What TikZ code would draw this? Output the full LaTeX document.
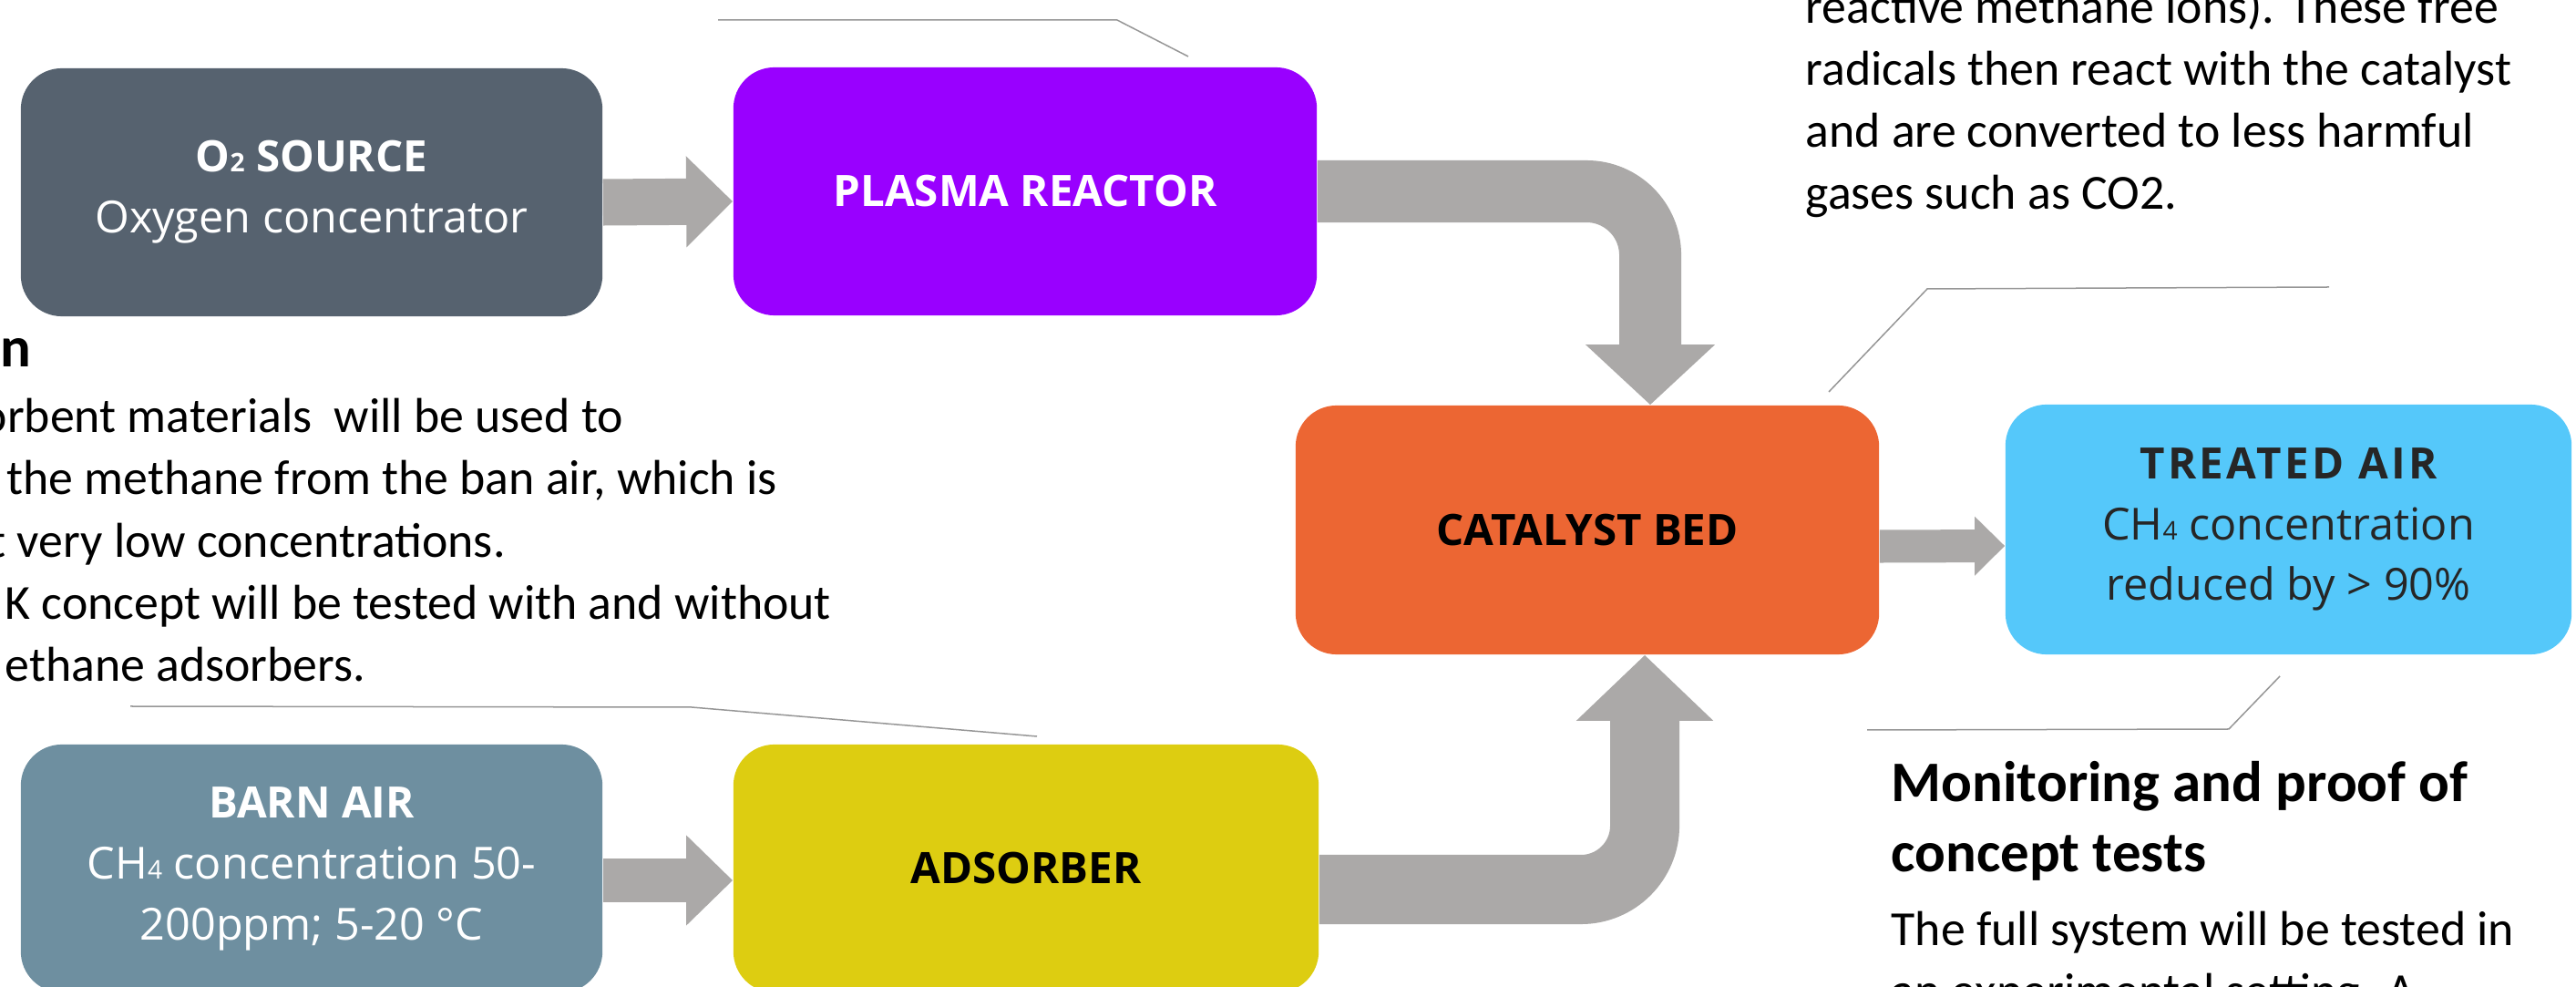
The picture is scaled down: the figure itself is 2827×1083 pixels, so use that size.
\documentclass[tikz,border=0pt]{standalone}
\usepackage{fontspec}
\setmainfont{Carlito}
\newfontfamily\boxfont{Open Sans}
\usepackage{xcolor}
\usetikzlibrary{arrows.meta, calc, positioning}
\definecolor{srcslate}{RGB}{86,98,111}
\definecolor{plasmaviolet}{RGB}{153,0,255}
\definecolor{bedorange}{RGB}{236,102,51}
\definecolor{airblue}{RGB}{85,200,250}
\definecolor{barnsteel}{RGB}{110,143,160}
\definecolor{adsyellow}{RGB}{221,205,17}
\definecolor{pipegray}{RGB}{171,169,168}
\definecolor{calloutgray}{RGB}{150,150,150}
\newcommand{\lowidx}[1]{{\fontsize{8}{8}\selectfont #1}}
\newcommand{\stagetitle}[1]{{\bfseries\fontsize{13.5}{19}\selectfont #1}}
\tikzset{
    stage/.style={rectangle, rounded corners=4.5mm, inner sep=0pt, align=center,
        minimum width=6.4cm, minimum height=2.72cm,
        font=\boxfont\fontsize{13.8}{19}\selectfont},
    pipe/.style={draw=pipegray, line width=#1},
    bodytext/.style={inner sep=0pt, align=left, font=\fontsize{15.3}{19.4}\selectfont},
    headtext/.style={inner sep=0pt, align=left, font=\bfseries\fontsize{17.9}{22.1}\selectfont},
    callout/.style={draw=calloutgray, line width=0.15mm}
}

\begin{document}
\begin{tikzpicture}[x=0.01cm, y=-0.01cm]
        \useasboundingbox (0,0) rectangle (2827,1083);

        % process stages
        \node[stage, fill=srcslate, text=white, minimum width=6.38cm] (o2) at (342,211) {\stagetitle{O\lowidx{2} SOURCE}\\Oxygen concentrator};
        \node[stage, fill=plasmaviolet, text=white] (plasma) at (1125,210) {\stagetitle{PLASMA REACTOR}};
        \node[stage, fill=bedorange, text=black, minimum height=2.73cm] (catalyst) at (1742,581.5) {\stagetitle{CATALYST BED}};
        \node[stage, fill=airblue, text=black!85, minimum width=6.21cm, minimum height=2.74cm] (treated) at (2511.5,581) {\stagetitle{\addfontfeatures{LetterSpace=7}TREATED AIR}\\CH\lowidx{4} concentration\\reduced by > 90\%};
        \node[stage, fill=barnsteel, text=white, minimum width=6.38cm] (barn) at (342,953) {\stagetitle{BARN AIR}\\CH\lowidx{4} concentration 50-\\200ppm; 5-20 °C};
        \node[stage, fill=adsyellow, text=black, minimum width=6.42cm] (adsorber) at (1126,953) {\stagetitle{ADSORBER}};

        % flow arrows
        \draw[pipe=5.1mm, -{Triangle[width=9.7mm, length=5.1mm]}] ([yshift=-1.1mm]o2.east) -- ([yshift=-1.1mm]plasma.west);
        \draw[pipe=4.8mm, -{Triangle[width=9.6mm, length=5.1mm]}] ([yshift=-1.3mm]barn.east) -- ([yshift=-1.3mm]adsorber.west);
        \draw[pipe=6.8mm, rounded corners=7mm, -{Triangle[width=13.8mm, length=6.6mm]}] (plasma.east) -| ([xshift=6.9mm]catalyst.north);
        \draw[pipe=7.6mm, rounded corners=7mm, -{Triangle[width=14.6mm, length=7.2mm]}] ([yshift=-2.3mm]adsorber.east) -| ([xshift=6.3mm]catalyst.south);
        \draw[pipe=3.6mm, -{Triangle[width=6.3mm, length=3.3mm]}] ([yshift=-1.8mm]catalyst.east) -- ([yshift=-1.8mm]treated.west);

        % callout lines
        \coordinate (c1a) at (788,22);
        \coordinate (c1b) at (1226,22);
        \coordinate (c1c) at (1304,62);
        \draw[callout] (c1a) -- (c1b) -- (c1c);
        \coordinate (c2a) at (2556,315);
        \coordinate (c2b) at (2115,317);
        \coordinate (c2c) at (2007,430);
        \draw[callout] (c2a) -- (c2b) -- (c2c);
        \coordinate (c3a) at (2502,742);
        \coordinate (c3b) at (2446,800);
        \coordinate (c3c) at (2049,801);
        \draw[callout] (c3a) -- (c3b) -- (c3c);
        \coordinate (c4a) at (143,775);
        \coordinate (c4b) at (759,776);
        \coordinate (c4c) at (1138,808);
        \draw[callout] (c4a) -- (c4b) -- (c4c);

        % text blocks
        \node[headtext, anchor=base west] (adshead) at (0,403) {n};
        \node[bodytext, anchor=base west] (ads1) at (-21,475) {orbent materials\ \ will be used to};
        \node[bodytext, anchor=base west] (ads2) at (7,543) {the methane from the ban air, which is};
        \node[bodytext, anchor=base west] (ads3) at (-12,612) {t very low concentrations.};
        \node[bodytext, anchor=base west] (ads4) at (5,680) {K concept will be tested with and without};
        \node[bodytext, anchor=base west] (ads5) at (5,748) {ethane adsorbers.};

        \node[bodytext, anchor=base west] (cattext) at (1981,230) {reactive methane ions). These free\\radicals then react with the catalyst\\and are converted to less harmful\\gases such as CO2.};

        \node[headtext, anchor=base west] (monhead) at (2075,957) {Monitoring and proof of\\concept tests};
        \node[bodytext, anchor=base west] (montext) at (2075,1106) {The full system will be tested in\\an experimental setting. A};
\end{tikzpicture}
\end{document}
